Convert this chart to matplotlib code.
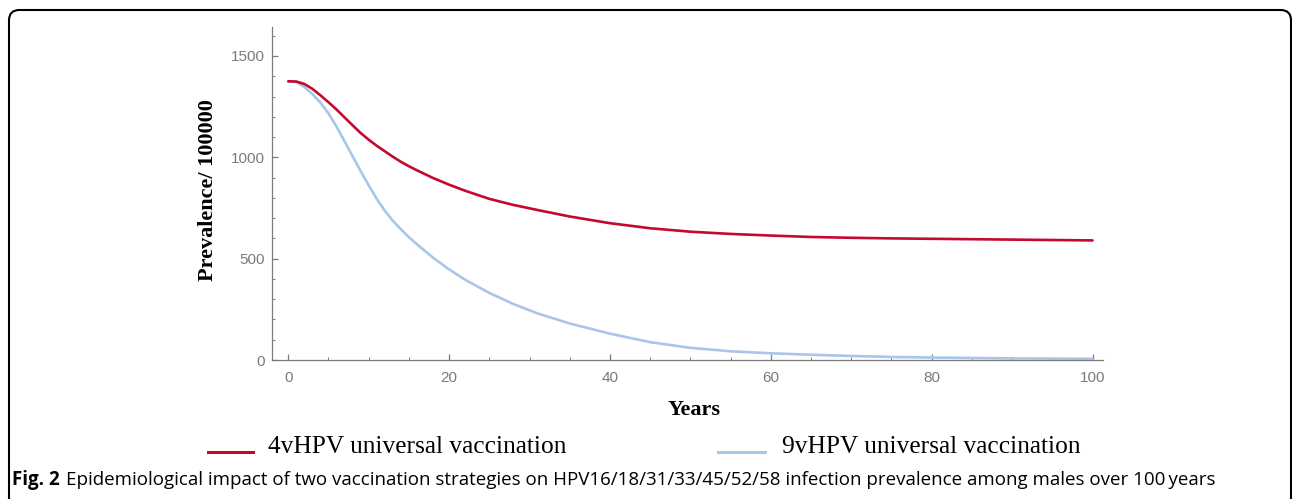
import numpy as np
import matplotlib
matplotlib.use("Agg")
import matplotlib.pyplot as plt
from matplotlib.lines import Line2D
from matplotlib.patches import FancyBboxPatch

# values (prevalence per 100000)
years = [0, 1, 2, 3, 4, 5, 6, 7, 8, 9, 10, 11, 12, 13, 14, 15, 16, 18, 20, 22, 25, 28, 31,
         35, 40, 45, 50, 55, 60, 65, 70, 75, 80, 85, 90, 95, 100]
prev_4v = [1375, 1374, 1362, 1338, 1306, 1272, 1236, 1197, 1158, 1120, 1087, 1057, 1030, 1003,
           978, 956, 936, 898, 865, 835, 795, 765, 740, 708, 675, 650, 633, 622, 614, 607,
           603, 600, 598, 596, 594, 592, 590]
prev_9v = [1375, 1372, 1347, 1312, 1270, 1217, 1152, 1079, 1005, 932, 862, 795, 737, 687, 645,
           606, 571, 505, 447, 396, 331, 276, 230, 180, 130, 88, 60, 43, 33, 26, 20, 15, 12,
           10, 8, 7, 6]
series_labels = ["4vHPV universal vaccination", "9vHPV universal vaccination"]
xticks = [0, 20, 40, 60, 80, 100]
yticks = [0, 500, 1000, 1500]
caption_bold = "Fig. 2"
caption = ("Epidemiological impact of two vaccination strategies on "
           "HPV16/18/31/33/45/52/58 infection prevalence among males over 100\u2009years")

red = "#C4082F"
blue = "#A9C6EA"
grey = "#7a7a7a"

W, H = 1292, 499
fig = plt.figure(figsize=(W / 100, H / 100), dpi=100)

# axes box in pixels: left 272, right 1103, bottom 360, top 27
ax = fig.add_axes([272 / W, (H - 360) / H, (1103 - 272) / W, (360 - 27) / H])
ax.plot(years, prev_9v, color=blue, lw=1.9, solid_capstyle="round")
ax.plot(years, prev_4v, color=red, lw=1.9, solid_capstyle="round")
ax.set_xlim(-2.02, 101.3)
ax.set_ylim(0, 1643)

for s in ["top", "right"]:
    ax.spines[s].set_visible(False)
for s in ["left", "bottom"]:
    ax.spines[s].set_color(grey)
    ax.spines[s].set_linewidth(0.9)

ax.set_xticks(xticks)
ax.set_yticks(yticks)
ax.set_xticks(np.arange(0, 101, 5), minor=True)
ax.set_yticks(np.arange(0, 1601, 100), minor=True)
ax.tick_params(which="major", direction="in", length=4.5, width=0.9, color=grey,
               labelcolor=grey, labelsize=11)
ax.tick_params(which="minor", direction="in", length=2.5, width=0.7, color=grey)
ax.tick_params(axis="x", pad=8)
ax.tick_params(axis="y", pad=5)
for lab in ax.get_xticklabels() + ax.get_yticklabels():
    lab.set_family("Liberation Sans")

ax.set_ylabel("Prevalence/ 100000", family="Liberation Serif", fontweight="bold", fontsize=16,
              va="center")
ax.yaxis.set_label_coords(-0.077, 0.51)
ax.set_xlabel("Years", family="Liberation Serif", fontweight="bold", fontsize=16, va="center")
ax.xaxis.set_label_coords(0.508, -0.150)


# legend below the plot
def fx(px):
    return px / W


def fy(py):
    return (H - py) / H


fig.add_artist(Line2D([fx(208), fx(253)], [fy(452), fy(452)], color=red, lw=2.2))
fig.text(fx(268), fy(447), series_labels[0], family="Liberation Serif", fontsize=18.3,
         va="center", ha="left")
fig.add_artist(Line2D([fx(718), fx(765)], [fy(452), fy(452)], color=blue, lw=2.2))
fig.text(fx(782), fy(447), series_labels[1], family="Liberation Serif", fontsize=18.3,
         va="center", ha="left")

# caption
t = fig.text(fx(12), fy(485), caption_bold, family="Open Sans", fontweight="bold",
             fontsize=13.5, va="baseline", ha="left")
fig.canvas.draw()
bb = t.get_window_extent()
fig.text(bb.x1 / W + 6 / W, fy(485), caption, family="Open Sans", fontsize=13.5,
         va="baseline", ha="left")

# rounded frame around the figure (bottom edge runs off the image)
frame = FancyBboxPatch((fx(9), fy(540)), fx(1282), (540 - 10) / H,
                       boxstyle="round,pad=0,rounding_size=0.008",
                       transform=fig.transFigure, fill=False, ec="black", lw=1.5,
                       mutation_aspect=W / H)
fig.add_artist(frame)

fig.savefig("out.png", dpi=100)
